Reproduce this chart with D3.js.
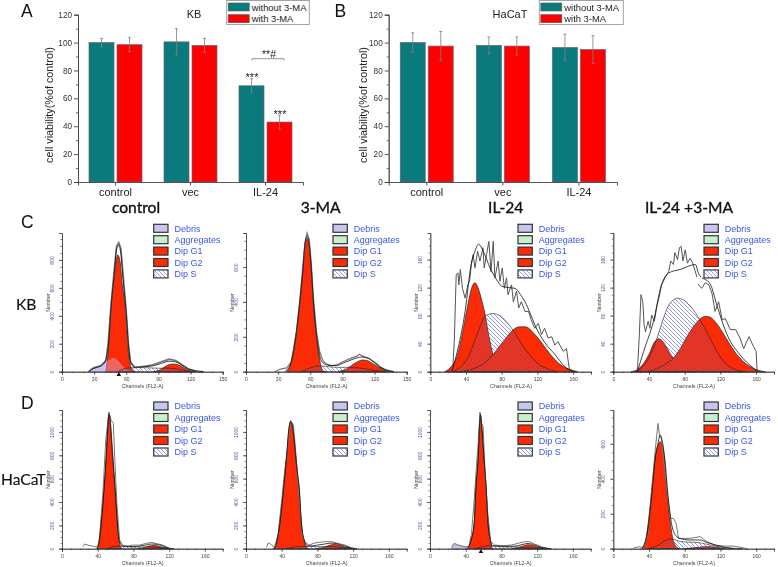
<!DOCTYPE html>
<html><head><meta charset="utf-8">
<style>html,body{margin:0;padding:0;background:#fff}svg{display:block;filter:blur(0.35px)}text{font-family:"Liberation Sans",Arial,sans-serif}</style>
<script src="https://cdn.jsdelivr.net/npm/d3@7"></script></head><body><svg id="c" width="778" height="567"></svg>
<script>
// ---- bar charts ----
const categories=["control","vec","IL-24"];
const seriesNames=["without 3-MA","with 3-MA"];
const yTicks=[0,20,40,60,80,100,120];
const yMinor=[10,30,50,70,90,110];
const kbWithout=[100,100.5,69], kbWith=[98.5,98,43];
const kbWithoutErr=[3,9.5,5], kbWithErr=[5,5,5];
const hacatWithout=[100,98,96.5], hacatWith=[97.5,97.5,95];
const hacatWithoutErr=[7,6,9.5], hacatWithErr=[10.5,6.5,10];
const flowLegend=["Debris","Aggregates","Dip G1","Dip G2","Dip S"];
// ---- flow cytometry: [channel,count] ----
const kbCtrlObs=[[25,0],[27,15],[30,30],[36,42],[41,80],[43,200],[46,500],[49,750],[51,900],[53,925],[55,880],[57,700],[60,430],[62,200],[64,70],[68,30],[72,35],[78,40],[85,50],[92,70],[100,90],[106,80],[112,50],[118,20],[125,5],[132,0]];
const kbCtrlFit=[[25,0],[28,18],[33,32],[38,50],[41,90],[43,170],[46,480],[49,720],[51,880],[53,905],[55,840],[57,660],[60,410],[62,190],[64,70],[68,32],[72,32],[78,36],[85,42],[92,58],[100,75],[106,70],[112,45],[118,20],[125,5],[132,0]];
const kbCtrlG1=[[41,0],[43,143],[46,478],[49,700],[52,835],[54,800],[56,640],[59,478],[62,143],[65,20],[68,0]];
const kbCtrlG2=[[85,0],[92,15],[97,40],[103,55],[108,50],[113,30],[118,12],[125,0]];
const kbCtrlS=[[52,0],[60,25],[70,30],[80,28],[90,25],[100,25],[110,15],[120,0]];
const kbCtrlDebris=[[24,0],[28,18],[33,30],[38,50],[42,75],[46,95],[48,100],[51,90],[54,65],[58,30],[62,10],[66,0]];

const kbMaObs=[[27,0],[30,10],[34,18],[38,22],[42,55],[44,120],[47,230],[50,400],[53,600],[55,740],[57,795],[59,760],[61,620],[63,420],[66,220],[69,110],[72,60],[76,42],[80,35],[85,40],[91,58],[97,75],[103,88],[106,100],[110,85],[115,75],[120,55],[125,30],[131,10],[138,0]];
const kbMaFit=[[36,0],[42,50],[46,180],[50,385],[53,580],[55,730],[57,775],[59,735],[61,590],[63,400],[66,205],[69,85],[72,50],[76,38],[80,35],[85,36],[91,50],[97,65],[103,78],[109,85],[114,78],[120,50],[126,22],[133,5],[138,0]];
const kbMaG1=[[38,0],[42,50],[46,180],[50,382],[53,573],[55,720],[57,764],[59,720],[61,573],[63,382],[66,190],[69,60],[72,5],[75,0]];
const kbMaG2=[[86,0],[95,20],[102,50],[109,67],[114,62],[120,40],[126,18],[133,3],[138,0]];
const kbMaS=[[52,0],[60,22],[67,33],[75,30],[85,25],[95,25],[105,22],[115,12],[125,3],[130,0]];

const kbIlObs=[[25,0],[27,48],[29,138],[31,141],[32,124],[33.6,146],[36,119],[39,105],[42,124],[44,129],[46,153],[48,167],[50,148],[53,172],[55.6,158],[59,177],[60.4,148],[63,167],[65.6,186],[68,143],[70.5,186],[72.4,134],[76,158],[78,129],[80.6,148],[83,119],[85.4,134],[87,110],[91,124],[93,100],[96.6,115],[99,91],[102,100],[106,86],[110,86],[113,74],[117,62],[121,69],[124.6,53],[128,62],[132,48],[136,50],[139.5,38],[143,43],[149,29],[152.6,33],[154,19],[156,2]];
const kbIlFit=[[24,0],[31,33],[39,86],[46,155],[50,172],[54,182],[60,170],[67,148],[74,132],[80,122],[88,120],[95,119],[101,110],[106,100],[112,83],[117,67],[128,42],[140,24],[150,8],[156,2],[162,0]];
const kbIlG1=[[16,0],[24,8],[30,22],[36,55],[42,95],[47,122],[50,127],[54,118],[58,100],[61,84],[65,55],[70,26],[75,10],[82,2],[88,0]];
const kbIlG2=[[33,0],[45,3],[55,8],[63,15],[70,24],[78,37],[86,50],[93,60],[100,64],[107,64],[115,56],[122,46],[130,32],[139,18],[148,8],[157,3],[165,0]];
const kbIlS=[[25,0],[35,8],[43,22],[50,45],[56,65],[62,80],[70,83],[78,80],[86,70],[95,55],[102,40],[110,26],[120,12],[130,5],[142,0]];

const kbBothObs=[[27,2],[29,48],[31,110],[33,100],[34.5,67],[36,57],[39,72],[41,62],[43,81],[46,72],[49,95],[52,110],[54,124],[58,134],[62,143],[64.4,158],[67.4,153],[69,170],[72,160],[74,177],[76,179],[78,158],[80.6,174],[83,155],[86,162],[89,155],[93,138],[95.5,124],[99,119],[103,127],[107,124],[110.5,112],[114,86],[118,100],[122,74],[125.5,76],[131,60],[137,60],[142,48],[146,33],[152,50],[157,36],[160,29],[161,2]];
const kbBothFit=[[27,0],[34,29],[45,72],[54,124],[62,141],[75,146],[92,153],[95.5,140],[109,124],[116,95],[127.4,53],[142,24],[157,5],[162,0]];
const kbBothG1=[[20,0],[28,4],[34,12],[40,25],[46,42],[51,47],[55,44],[60,34],[66,21],[72,10],[80,3],[88,0]];
const kbBothG2=[[38,0],[50,5],[60,12],[67,19],[75,33],[84,53],[92,68],[98,76],[103,79],[108,78],[115,70],[122,57],[131,38],[140,22],[150,10],[160,3],[170,0]];
const kbBothS=[[24,0],[32,6],[40,20],[49,48],[55,72],[62,95],[68,103],[72,105],[78,103],[86,94],[97,74],[105,56],[114,34],[124,14],[135,4],[148,0]];

const hcCtrlObs=[[23.5,17],[25.4,40],[29,31],[36.5,17],[40,17],[42,100],[46,500],[49,930],[52.6,1170],[55,1100],[57.5,1075],[59,790],[61.5,390],[64.5,75],[68,30],[74,23],[79.5,31],[87,31],[94,45],[100,54],[105.5,45],[113,31],[120.5,3],[126,0]];
const hcCtrlFit=[[39,0],[42,80],[44,225],[47,510],[49,730],[51,1010],[52.6,1150],[54,1100],[56,900],[58,680],[60,460],[62,225],[64,70],[68,22],[74,18],[80,18],[87,22],[94,32],[100,40],[105.5,38],[113,22],[120,3],[125,0]];
const hcCtrlG1=[[39,0],[42,70],[44,217],[47,503],[49,720],[51,1000],[52.6,1166],[54,1080],[56,850],[58,650],[60,450],[62,217],[64,60],[67,0]];
const hcCtrlG2=[[85,0],[92,10],[98,24],[102,28],[107,24],[113,10],[120,2],[124,0]];
const hcCtrlS=[[50,0],[58,18],[65,22],[72,18],[80,15],[90,15],[100,15],[110,10],[118,2],[124,0]];

const hcMaObs=[[23,11],[25,51],[28.7,31],[32,11],[36,130],[40,417],[43.6,690],[45.5,790],[47.4,930],[50,1097],[53,1060],[55,903],[56.7,731],[59.7,417],[63.4,103],[67,46],[71.6,31],[75,45],[81,54],[88,60],[96,60],[103,45],[111,31],[118,6],[124,0]];
const hcMaFit=[[31,0],[34,45],[38,225],[42,510],[45.5,795],[48,1025],[50,1090],[52,1055],[55.6,800],[57.5,660],[59.7,510],[62,225],[65,80],[69,24],[75,25],[81,32],[88,40],[96,48],[103,40],[111,22],[118,5],[124,0]];
const hcMaG1=[[31,0],[34,40],[38,217],[42,503],[45.5,789],[48,1020],[50,1088],[52,1050],[55.6,789],[57.5,650],[59.7,503],[62,217],[65,70],[69,0]];
const hcMaG2=[[78,0],[86,10],[92,26],[98,37],[104,30],[110,15],[116,5],[122,0]];
const hcMaS=[[45,0],[52,12],[60,20],[68,20],[78,18],[88,18],[98,17],[108,12],[118,3],[124,0]];

const hcIlObs=[[24,17],[27,46],[32,31],[39,17],[43.5,17],[46.5,130],[49.5,417],[52,703],[54,903],[56,1170],[57.7,1075],[59.5,1045],[61.4,703],[64.4,331],[68,60],[72.5,31],[82,26],[91,31],[98.6,46],[106,60],[111.6,60],[117,40],[124.6,17],[132,3],[136,0]];
const hcIlFit=[[42,0],[46,75],[49.5,225],[51.3,510],[54,795],[55.5,1065],[56.5,1150],[58,1050],[60.3,795],[63,510],[65,225],[67.5,80],[70,24],[76,22],[85,20],[95,22],[103,35],[110,45],[116,35],[124,12],[132,2],[136,0]];
const hcIlG1=[[42,0],[46,70],[49.5,217],[51.3,503],[54,789],[55.5,1060],[56.5,1145],[58,1040],[60.3,789],[63,503],[65,217],[67.5,70],[70,0]];
const hcIlG2=[[92,0],[100,12],[106,28],[110,34],[116,26],[122,10],[128,3],[134,0]];
const hcIlS=[[50,0],[58,15],[65,25],[75,20],[85,15],[95,15],[105,12],[115,8],[125,2],[130,0]];
const hcIlDebris=[[24,0],[27,35],[32,25],[40,15],[44,0]];

const hcBothObs=[[22,2],[28,11],[34,8],[39,88],[43,335],[47,564],[50,716],[52,640],[53.6,640],[57,488],[60,335],[64,173],[67.4,173],[70.4,145],[73,59],[77,59],[86,59],[97.4,69],[105,40],[114,21],[124,15],[135,15],[142,8],[150,0]];
const hcBothFit=[[32,0],[39,120],[43,300],[47,520],[50,600],[52.5,650],[55,610],[58,500],[61,320],[65,150],[70,75],[75,58],[85,50],[97,50],[105,35],[115,20],[125,8],[135,2],[145,0]];
const hcBothG1=[[32,0],[36,40],[39,143],[43,335],[47,526],[50,590],[52.4,611],[55,590],[57,526],[60,335],[64,143],[67,50],[71,8],[74,0]];
const hcBothG2=[[80,0],[95,8],[105,12],[115,8],[125,0]];
const hcBothS=[[38,0],[45,8],[52,25],[58,45],[64,57],[70,50],[76,40],[85,38],[95,35],[105,25],[115,14],[125,6],[135,0]];

const ticks150=[0,30,60,90,120,150], minor150=d3.range(0,151,10);
const ticks180=[0,40,80,120,160], minor180=d3.range(0,181,10);
const countsC1=[0,200,400,600,800], countsC1Minor=d3.range(0,1000,50);
const countsC2=[0,200,400,600], countsC2Minor=d3.range(0,800,50);
const countsIL=[0,40,80,120,160], countsILMinor=d3.range(0,200,10);
const countsD=[0,200,400,600,800,1000], countsDMinor=d3.range(0,1190,50);

const svg=d3.select("#c");
const TEAL="#0a7a7c", RED="#ff0000", FRED="#fb2c05", BLUE="#3a58e6";
const defs=svg.append("defs");
const hatch=defs.append("pattern").attr("id","hatch").attr("width",4).attr("height",4).attr("patternUnits","userSpaceOnUse");
hatch.append("path").attr("d","M-1,-1L5,5M-1,3L1,5M3,-1L5,1").attr("stroke","#5a66d6").attr("stroke-width",0.65);

function styleAxis(g,color,w){g.selectAll("path,line").attr("stroke",color).attr("stroke-width",w);}

function barChart(left,right,title,titleX,a,b,ae,be,legendBox,yt){
  const x=d3.scaleBand().domain(categories).range([left,right]);
  const y=d3.scaleLinear().domain([0,120]).range([182,14.7]);
  const g=svg.append("g");
  const barW=25,gap=1.5;
  [[a,ae,TEAL,-1],[b,be,RED,1]].forEach(([vals,errs,col,side])=>{
    const cx=i=>x(categories[i])+x.bandwidth()/2+side*(gap+barW/2);
    g.selectAll(null).data(vals).join("rect")
      .attr("x",(d,i)=>cx(i)-barW/2).attr("width",barW)
      .attr("y",d=>y(d)).attr("height",d=>y(0)-y(d))
      .attr("fill",col).attr("stroke","#667").attr("stroke-width",0.7);
    g.selectAll(null).data(vals).join("path")
      .attr("d",(d,i)=>{const c=cx(i),t=y(d+errs[i]),m=y(d-errs[i]);return `M${c},${m}V${t}M${c-1.5},${t}H${c+1.5}M${c-1.5},${m}H${c+1.5}`;})
      .attr("stroke","#808080").attr("stroke-width",0.8).attr("fill","none");
  });
  const ya=svg.append("g").attr("transform",`translate(${left},0)`).call(d3.axisLeft(y).tickValues(yTicks).tickSize(4).tickPadding(2));
  ya.selectAll("text").attr("font-size",8.2).attr("fill","#333");
  styleAxis(ya,"#444",0.9);
  const ym=svg.append("g").attr("transform",`translate(${left},0)`).call(d3.axisLeft(y).tickValues(yMinor).tickSize(2).tickFormat(""));
  styleAxis(ym,"#444",0.8);
  const xa=svg.append("g").attr("transform","translate(0,182)").call(d3.axisBottom(x).tickSize(3.5).tickPadding(3));
  xa.selectAll("text").attr("font-size",11).attr("fill","#222");
  styleAxis(xa,"#444",0.9);
  svg.append("text").attr("x",titleX).attr("y",18).attr("text-anchor","middle").attr("font-size",11).attr("fill","#222").text(title);
  svg.append("text").attr("transform",`translate(${yt},105) rotate(-90)`).attr("text-anchor","middle").attr("font-size",10.8).attr("fill","#222").text("cell viability(%of control)");
  // legend
  const L=legendBox;
  svg.append("rect").attr("x",L.x).attr("y",0.5).attr("width",L.w).attr("height",24).attr("fill","#fff").attr("stroke","#999").attr("stroke-width",0.9);
  seriesNames.forEach((n,i)=>{
    svg.append("rect").attr("x",L.x+1.5).attr("y",3+i*11.7).attr("width",L.sw).attr("height",8).attr("fill",i?RED:TEAL).attr("stroke","#555").attr("stroke-width",0.6);
    svg.append("text").attr("x",L.x+L.sw+4).attr("y",10.5+i*11.2).attr("font-size",9.4).attr("fill","#222").text(n);
  });
  return {x,y};
}
const A=barChart(78,303,"KB",194,kbWithout,kbWith,kbWithoutErr,kbWithErr,{x:226.7,w:82.6,sw:21},53);
barChart(388.7,617,"HaCaT",510,hacatWithout,hacatWith,hacatWithoutErr,hacatWithErr,{x:539.3,w:84,sw:21},366.5);

// significance marks
const il=A.x("IL-24");
svg.append("text").attr("x",il+24).attr("y",A.y(69)-4.5).attr("text-anchor","middle").attr("font-size",11).attr("fill","#222").text("***");
svg.append("text").attr("x",il+52).attr("y",A.y(43)-4.5).attr("text-anchor","middle").attr("font-size",11).attr("fill","#222").text("***");
svg.append("text").attr("x",il+41).attr("y",58).attr("text-anchor","middle").attr("font-size",10.5).attr("fill","#222").text("**#");
svg.append("path").attr("d",`M${il+24},60.5V58.7H${il+56}V60.5`).attr("fill","none").attr("stroke","#777").attr("stroke-width",0.8);

// panel letters and headers
[["A",21,16.5],["B",334.5,16.5],["C",21,228],["D",21,409]].forEach(([t,x,y])=>{
  svg.append("text").attr("x",x).attr("y",y).attr("font-size",17.5).attr("fill","#111").text(t);
});
[["control",136],["3-MA",320.7],["IL-24",505.7],["IL-24 +3-MA",689]].forEach(([t,x])=>{
  svg.append("text").attr("x",x).attr("y",213).attr("text-anchor","middle").attr("font-size",15.6).style("font-family","Lato").attr("fill","#111").attr("stroke","#111").attr("stroke-width",0.35).text(t);
});
svg.append("text").attr("x",16).attr("y",310).attr("font-size",15.6).style("font-family","Lato").attr("fill","#111").attr("stroke","#111").attr("stroke-width",0.15).text("KB");
svg.append("text").attr("x",1).attr("y",485).attr("font-size",15.6).style("font-family","Lato").attr("fill","#111").attr("stroke","#111").attr("stroke-width",0.15).text("HaCaT");

// flow panels
function flow(o){
  const x=d3.scaleLinear().domain([0,o.xMax]).range([o.ox,o.ox+160.7]);
  const y=d3.scaleLinear().domain([0,o.yMax]).range([o.base,o.base-138.7]);
  const g=svg.append("g");
  const area=d3.area().x(d=>x(d[0])).y0(y(0)).y1(d=>y(d[1])).curve(d3.curveMonotoneX);
  const line=d3.line().x(d=>x(d[0])).y(d=>y(d[1]));
  if(o.debris) g.append("path").attr("d",area(o.debris)).attr("fill","#c6c6f0").attr("stroke","#333").attr("stroke-width",0.4);
  [o.g1,o.g2].forEach(s=>g.append("path").attr("d",area(s)).attr("fill",FRED).attr("stroke","#222").attr("stroke-width",0.7));
  if(o.debris) g.append("path").attr("d",area(o.debris)).attr("fill","#d8b8f0").attr("opacity",0.4);
  g.append("path").attr("d",area(o.s)).attr("fill","url(#hatch)").attr("stroke","#222").attr("stroke-width",0.6);
  g.append("path").attr("d",line.curve(d3.curveLinear)(o.obs)).attr("fill","none").attr("stroke",o.obsColor||"#555").attr("stroke-width",o.obsW||1);
  g.append("path").attr("d",line.curve(d3.curveMonotoneX)(o.fit)).attr("fill","none").attr("stroke","#111").attr("stroke-width",0.8);
  if(o.gap) svg.append("rect").attr("x",o.gap[0]).attr("y",o.gap[1]).attr("width",o.gap[2]).attr("height",o.gap[3]).attr("fill","#fff");

  const ya=svg.append("g").attr("transform",`translate(${o.ox},0)`).call(d3.axisLeft(y).tickValues(o.ySub).tickSize(1.5).tickFormat(""));
  styleAxis(ya,"#444",0.7);
  const yb=svg.append("g").attr("transform",`translate(${o.ox},0)`).call(d3.axisLeft(y).tickValues(o.yT).tickSize(3).tickPadding(2).tickFormat(d3.format("d")));
  styleAxis(yb,"#444",0.8);
  yb.selectAll("text").attr("font-size",5).attr("fill","#5560a8").attr("text-anchor","middle").attr("dy",0)
    .attr("transform","translate(-8,0) rotate(-90)").attr("x",0).attr("y",0);
  const xs=svg.append("g").attr("transform",`translate(0,${o.base})`).call(d3.axisBottom(x).tickValues(o.xSub).tickSize(1.5).tickFormat(""));
  styleAxis(xs,"#444",0.7);
  const xa=svg.append("g").attr("transform",`translate(0,${o.base})`).call(d3.axisBottom(x).tickValues(o.xT).tickSize(3).tickPadding(3));
  styleAxis(xa,"#333",0.8);
  xa.selectAll("text").attr("font-size",5).attr("fill","#444");
  svg.append("text").attr("x",o.ox+80.7).attr("y",o.base+16.5).attr("text-anchor","middle").attr("font-size",5.3).attr("fill","#444").text("Channels (FL2-A)");
  svg.append("text").attr("transform",`translate(${o.ox-12.5},${o.base-69}) rotate(-90)`).attr("text-anchor","middle").attr("font-size",5.3).attr("fill","#444").text("Number");
  if(o.marker) svg.append("path").attr("d",d3.symbol(d3.symbolTriangle,9)()).attr("transform",`translate(${x(o.marker)},${o.base+3})`).attr("fill","#111");

  const fills=["#c6c6f0","#c8f0d0",FRED,FRED,"#fff"];
  flowLegend.forEach((n,i)=>{
    const cy=o.legY+i*o.legStep;
    svg.append("rect").attr("x",o.legX).attr("y",cy-4).attr("width",14.3).attr("height",8).attr("fill",fills[i]).attr("stroke","#333").attr("stroke-width",1.2);
    if(i==4) svg.append("rect").attr("x",o.legX).attr("y",cy-4).attr("width",14.3).attr("height",8).attr("fill","url(#hatch)");
    svg.append("text").attr("x",o.legX+20.7).attr("y",cy+3.2).attr("font-size",9).attr("fill",BLUE).text(n);
  });
}
const T=371.7,B=548.7;
const c150={xMax:150,xT:ticks150,xSub:minor150}, c180={xMax:180,xT:ticks180,xSub:minor180};
const rowC={base:T,legY:228.3,legStep:11.4}, rowD={base:B,legY:406,legStep:11.5};
flow({...c150,...rowC,ox:62,yMax:993,yT:countsC1,ySub:countsC1Minor,legX:153.7,obs:kbCtrlObs,fit:kbCtrlFit,g1:kbCtrlG1,g2:kbCtrlG2,s:kbCtrlS,debris:kbCtrlDebris,marker:53,obsColor:"#777",obsW:1.6});
flow({...c150,...rowC,ox:246,yMax:795,yT:countsC2,ySub:countsC2Minor,legX:333,obs:kbMaObs,fit:kbMaFit,g1:kbMaG1,g2:kbMaG2,s:kbMaS,obsColor:"#777",obsW:1.2});
flow({...c180,...rowC,ox:430.3,yMax:198,yT:countsIL,ySub:countsILMinor,legX:518,obs:kbIlObs,fit:kbIlFit,g1:kbIlG1,g2:kbIlG2,s:kbIlS});
flow({...c180,...rowC,ox:613.3,yMax:198,yT:countsIL,ySub:countsILMinor,legX:704,obs:kbBothObs,fit:kbBothFit,g1:kbBothG1,g2:kbBothG2,s:kbBothS,gap:[694,277,8,7]});
flow({...c180,...rowD,ox:62,yMax:1188,yT:countsD,ySub:countsDMinor,legX:153.7,obs:hcCtrlObs,fit:hcCtrlFit,g1:hcCtrlG1,g2:hcCtrlG2,s:hcCtrlS,obsColor:"#777"});
flow({...c180,...rowD,ox:246,yMax:1188,yT:countsD,ySub:countsDMinor,legX:333,obs:hcMaObs,fit:hcMaFit,g1:hcMaG1,g2:hcMaG2,s:hcMaS,obsColor:"#777"});
flow({...c180,...rowD,ox:430,yMax:1188,yT:countsD,ySub:countsDMinor,legX:518,obs:hcIlObs,fit:hcIlFit,g1:hcIlG1,g2:hcIlG2,s:hcIlS,debris:hcIlDebris,marker:57,obsColor:"#777"});
flow({...c180,...rowD,ox:613.3,yMax:793,yT:countsC2,ySub:countsC2Minor,legX:704,obs:hcBothObs,fit:hcBothFit,g1:hcBothG1,g2:hcBothG2,s:hcBothS,obsColor:"#777"});
</script></body></html>
